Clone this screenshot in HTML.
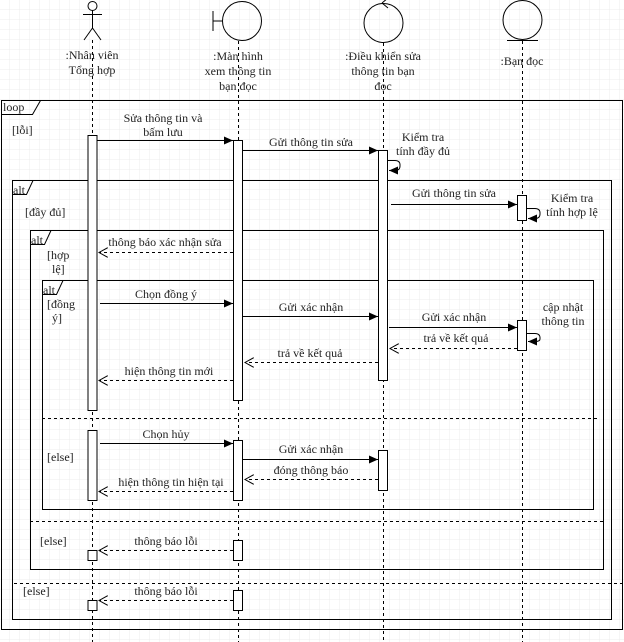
<!DOCTYPE html>
<html><head><meta charset="utf-8"><style>
html,body{margin:0;padding:0;background:#fff;}
svg{display:block;}
text{font-family:"Liberation Serif","Times New Roman",serif;font-size:12px;fill:#222;}
</style></head><body>
<svg width="624" height="642" viewBox="0 0 624 642" xmlns="http://www.w3.org/2000/svg">
<defs>
<pattern id="g" width="10" height="10" patternUnits="userSpaceOnUse"><path d="M10 0V10H0" fill="none" stroke="#ececec" stroke-width="1"/></pattern>
<marker id="af" markerWidth="10" markerHeight="8" refX="9" refY="4" orient="auto" markerUnits="userSpaceOnUse"><path d="M0,0L9,4L0,8Z" fill="#000"/></marker>
<marker id="ao" markerWidth="10" markerHeight="10" refX="9" refY="5" orient="auto" markerUnits="userSpaceOnUse"><path d="M0,0L9,5L0,10" fill="none" stroke="#000"/></marker>
</defs>
<rect width="624" height="642" fill="url(#g)"/>
<g stroke="#000" fill="none" stroke-width="1">
<circle cx="92.5" cy="6" r="4.5"/>
<path d="M92.5 10.5V28M83 14.5H102M92.5 28L84 40M92.5 28L101 40"/>
<circle cx="242" cy="21" r="19.5"/>
<path d="M213 11V31M213 21H222.5"/>
<circle cx="383.5" cy="23" r="19.5"/>
<path d="M382 3L388 -2M382 3L388 8"/>
<circle cx="522.5" cy="20" r="19.5"/>
<path d="M507 40.5H538"/>
<g stroke-dasharray="3,3">
<path d="M92.5 40V642M238.5 41V642M383.5 43V642M522.5 41V642"/>
</g>
<rect x="1.5" y="100.5" width="621" height="529"/>
<path d="M1.5 114.5H32.5L40.5 100.5"/>
<rect x="12.5" y="180.5" width="599" height="439"/>
<path d="M12.5 194.5H26.5L33 180.5"/>
<rect x="30.5" y="230.5" width="573" height="339"/>
<path d="M30.5 244.5H44.5L51 230.5"/>
<rect x="42.5" y="280.5" width="551" height="229"/>
<path d="M42.5 294.5H56.5L63 280.5"/>
<g stroke-dasharray="3,3">
<path d="M42 418.5H597M30 521.5H604M14 583.5H622"/>
</g>
</g>
<g stroke="#000" fill="#fff">
<rect x="88" y="135.5" width="9" height="275"/>
<rect x="88" y="430.5" width="9" height="70"/>
<rect x="88" y="550.5" width="9" height="10"/>
<rect x="88" y="600.5" width="9" height="10"/>
<rect x="233.5" y="140.5" width="9" height="260"/>
<rect x="233.5" y="440.5" width="9" height="60"/>
<rect x="233.5" y="540.5" width="9" height="20"/>
<rect x="233.5" y="590.5" width="9" height="20"/>
<rect x="378.5" y="150.5" width="9" height="230"/>
<rect x="378.5" y="450.5" width="9" height="40"/>
<rect x="517.5" y="195.5" width="9" height="25"/>
<rect x="517.5" y="320.5" width="9" height="30"/>
</g>
<g stroke="#000" fill="none">
<path d="M97 140.5H233" marker-end="url(#af)"/>
<path d="M243 150.5H378" marker-end="url(#af)"/>
<path d="M388 160.5H395Q400 160.5 400 165V166Q400 170.5 395 170.5H389" marker-end="url(#af)"/>
<path d="M391 204.5H517" marker-end="url(#af)"/>
<path d="M527 208.5H535Q540 208.5 540 213V214Q540 218.5 535 218.5H528" marker-end="url(#af)"/>
<path d="M100 303.5H233" marker-end="url(#af)"/>
<path d="M243 316.5H378" marker-end="url(#af)"/>
<path d="M389 327.5H517" marker-end="url(#af)"/>
<path d="M527 333.5H535Q540 333.5 540 338V339Q540 341.5 535 341.5H528" marker-end="url(#af)"/>
<path d="M100 443.5H233" marker-end="url(#af)"/>
<path d="M243 459.5H378" marker-end="url(#af)"/>
<g stroke-dasharray="3,3">
<path d="M233 252.5H99" marker-end="url(#ao)"/>
<path d="M517 348.5H390" marker-end="url(#ao)"/>
<path d="M378 362.5H245" marker-end="url(#ao)"/>
<path d="M233 380.5H99" marker-end="url(#ao)"/>
<path d="M378 479.5H245" marker-end="url(#ao)"/>
<path d="M233 491.5H99" marker-end="url(#ao)"/>
<path d="M233 550.5H99" marker-end="url(#ao)"/>
<path d="M233 600.5H99" marker-end="url(#ao)"/>
</g>
</g>
<g text-anchor="middle">
<text x="92" y="59">:Nhân viên</text><text x="92" y="74">Tổng hợp</text>
<text x="238" y="60">:Màn hình</text><text x="238" y="75">xem thông tin</text><text x="238" y="90">bạn đọc</text>
<text x="383" y="60">:Điều khiển sửa</text><text x="383" y="75">thông tin bạn</text><text x="383" y="90">đọc</text>
<text x="522" y="65">:Bạn đọc</text>
<text x="163" y="122">Sửa thông tin và</text><text x="163" y="136">bấm lưu</text>
<text x="311" y="146">Gửi thông tin sửa</text>
<text x="423" y="141">Kiểm tra</text><text x="423" y="155">tính đầy đủ</text>
<text x="454" y="197">Gửi thông tin sửa</text>
<text x="572" y="202">Kiểm tra</text><text x="572" y="216">tính hợp lệ</text>
<text x="165" y="246">thông báo xác nhận sửa</text>
<text x="166" y="298">Chọn đồng ý</text>
<text x="311" y="311">Gửi xác nhận</text>
<text x="454" y="321">Gửi xác nhận</text>
<text x="563" y="311">cập nhật</text><text x="563" y="325">thông tin</text>
<text x="456" y="342">trả về kết quả</text>
<text x="310" y="357">trả về kết quả</text>
<text x="169" y="375">hiện thông tin mới</text>
<text x="166" y="438">Chọn hủy</text>
<text x="311" y="453">Gửi xác nhận</text>
<text x="311" y="474">đóng thông báo</text>
<text x="171" y="486">hiện thông tin hiện tại</text>
<text x="166" y="545">thông báo lỗi</text>
<text x="166" y="595">thông báo lỗi</text>
</g>
<text x="3" y="111">loop</text>
<text x="13" y="194">alt</text>
<text x="31" y="244">alt</text>
<text x="43" y="294">alt</text>
<text x="12" y="134">[lỗi]</text>
<text x="25" y="216">[đầy đủ]</text>
<text x="47" y="259">[hợp</text><text x="52" y="273">lệ]</text>
<text x="47" y="308">[đồng</text><text x="52" y="322">ý]</text>
<text x="47" y="461">[else]</text>
<text x="40" y="545">[else]</text>
<text x="23" y="595">[else]</text>
</svg>
</body></html>
